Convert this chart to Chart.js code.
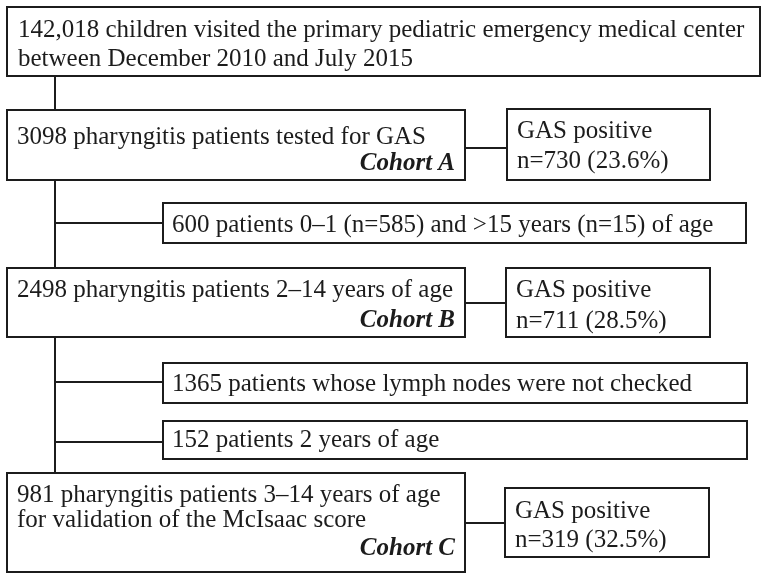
<!DOCTYPE html>
<html>
<head>
<meta charset="utf-8">
<script src="https://cdn.jsdelivr.net/npm/chart.js@4/dist/chart.umd.min.js"></script>
<style>
  html, body { margin: 0; padding: 0; background: #fff; }
  #wrap { width: 763px; height: 573px; }
</style>
</head>
<body>
<div id="wrap"><canvas id="flow" width="763" height="573"></canvas></div>
<script>
'use strict';

// flow texts
const totalVisits = ['142,018 children visited the primary pediatric emergency medical center',
                     'between December 2010 and July 2015'];
const cohortText = [
  ['3098 pharyngitis patients tested for GAS'],
  ['2498 pharyngitis patients 2\u201314 years of age'],
  ['981 pharyngitis patients 3\u201314 years of age', 'for validation of the McIsaac score']
];
const cohortLabels = ['Cohort A', 'Cohort B', 'Cohort C'];
const gasPositive = [730, 711, 319];
const gasPercent = [23.6, 28.5, 32.5];
const exclusions = [
  '600 patients 0\u20131 (n=585) and >15 years (n=15) of age',
  '1365 patients whose lymph nodes were not checked',
  '152 patients 2 years of age'
];

// layout in axis units (x 0..763, y 0..573 top-down)
const topBox = { x0: 7, x1: 760, y0: 7, y1: 76, base: [37, 66] };
const cohortBoxes = [
  { x0: 7, x1: 465, y0: 110, y1: 180, base: [144], labelBase: 170 },
  { x0: 7, x1: 465, y0: 268, y1: 337, base: [297], labelBase: 327 },
  { x0: 7, x1: 465, y0: 473, y1: 572, base: [502, 527], labelBase: 555 }
];
const gasBoxes = [
  { x0: 507, x1: 710, y0: 109, y1: 180, base: [138, 168], link: 148 },
  { x0: 506, x1: 710, y0: 268, y1: 337, base: [297, 328], link: 303 },
  { x0: 505, x1: 709, y0: 488, y1: 557, base: [518, 547], link: 523 }
];
const exclBoxes = [
  { x0: 163, x1: 746, y0: 203, y1: 243, base: 232, branch: 223 },
  { x0: 163, x1: 747, y0: 363, y1: 403, base: 391, branch: 382 },
  { x0: 163, x1: 747, y0: 421, y1: 459, base: 447, branch: 442 }
];
const trunkX = 55;

const INK = '#1c1c1c';
const FONT = '25px "Liberation Serif", "Times New Roman", serif';
const FONT_BI = 'italic bold 25px "Liberation Serif", "Times New Roman", serif';

const flowPlugin = {
  id: 'flow',
  afterDraw(chart) {
    const { ctx, scales } = chart;
    const X = (v) => scales.x.getPixelForValue(v);
    const Y = (v) => scales.y.getPixelForValue(v);

    ctx.save();
    ctx.strokeStyle = INK;
    ctx.fillStyle = INK;
    ctx.lineWidth = 2;
    ctx.textBaseline = 'alphabetic';

    function rect(b) {
      ctx.strokeRect(X(b.x0), Y(b.y0), X(b.x1) - X(b.x0), Y(b.y1) - Y(b.y0));
    }
    function line(x0, y0, x1, y1) {
      ctx.beginPath();
      ctx.moveTo(X(x0), Y(y0));
      ctx.lineTo(X(x1), Y(y1));
      ctx.stroke();
    }

    // trunk
    line(trunkX, topBox.y1, trunkX, cohortBoxes[0].y0);
    line(trunkX, cohortBoxes[0].y1, trunkX, cohortBoxes[1].y0);
    line(trunkX, cohortBoxes[1].y1, trunkX, cohortBoxes[2].y0);

    // top box
    rect(topBox);
    ctx.font = FONT;
    ctx.textAlign = 'left';
    totalVisits.forEach((t, i) => ctx.fillText(t, X(topBox.x0 + 11), Y(topBox.base[i])));

    cohortBoxes.forEach((b, i) => {
      rect(b);
      ctx.font = FONT;
      ctx.textAlign = 'left';
      cohortText[i].forEach((t, j) => ctx.fillText(t, X(b.x0 + 10), Y(b.base[j])));
      ctx.font = FONT_BI;
      ctx.textAlign = 'right';
      ctx.fillText(cohortLabels[i], X(b.x1 - 10), Y(b.labelBase));

      const g = gasBoxes[i];
      line(b.x1, g.link, g.x0, g.link);
      rect(g);
      ctx.font = FONT;
      ctx.textAlign = 'left';
      ctx.fillText('GAS positive', X(g.x0 + 10), Y(g.base[0]));
      ctx.fillText('n=' + gasPositive[i] + ' (' + gasPercent[i].toFixed(1) + '%)', X(g.x0 + 10), Y(g.base[1]));
    });

    exclBoxes.forEach((b, i) => {
      line(trunkX, b.branch, b.x0, b.branch);
      rect(b);
      ctx.font = FONT;
      ctx.textAlign = 'left';
      ctx.fillText(exclusions[i], X(b.x0 + 9), Y(b.base));
    });

    ctx.restore();
  }
};

new Chart(document.getElementById('flow').getContext('2d'), {
  type: 'scatter',
  data: { datasets: [{ data: [], pointRadius: 0 }] },
  options: {
    responsive: false,
    animation: false,
    layout: { padding: 0 },
    plugins: { legend: { display: false }, tooltip: { enabled: false } },
    scales: {
      x: { type: 'linear', min: 0, max: 763, display: false },
      y: { type: 'linear', min: 0, max: 573, reverse: true, display: false }
    }
  },
  plugins: [flowPlugin]
});
</script>
</body>
</html>
